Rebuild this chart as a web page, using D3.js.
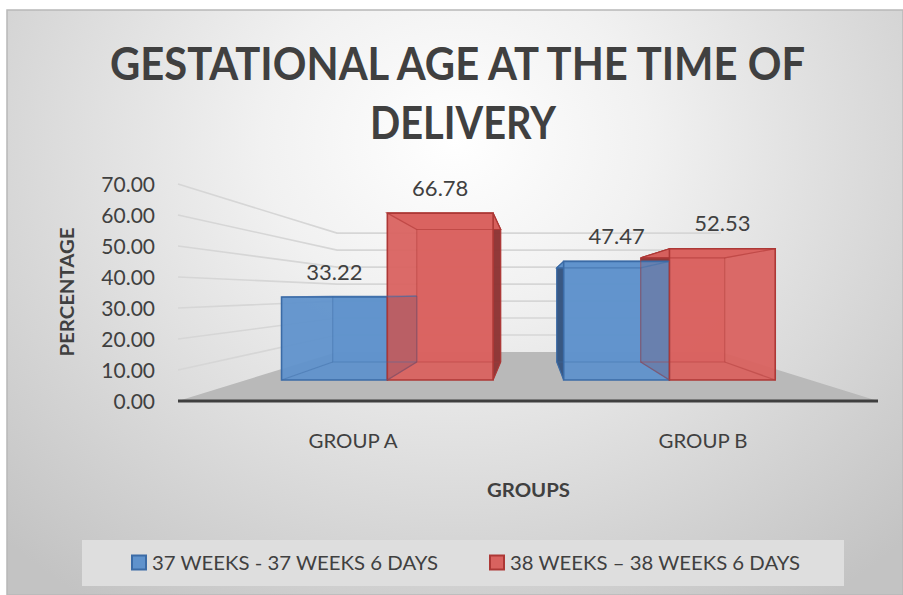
<!DOCTYPE html>
<html>
<head>
<meta charset="utf-8">
<script src="https://cdn.jsdelivr.net/npm/d3@7"></script>
<style>
html,body{margin:0;padding:0;background:#fff;}
svg{display:block;}
text{font-family:Lato,"Open Sans",sans-serif;fill:#404040;}
</style>
</head>
<body>
<script>
// ---- data ----
const categories = ["GROUP A", "GROUP B"];
const seriesNames = ["37 WEEKS - 37 WEEKS 6 DAYS", "38 WEEKS \u2013 38 WEEKS 6 DAYS"];
const series37 = [33.22, 47.47];
const series38 = [66.78, 52.53];
const yTickValues = [0, 10, 20, 30, 40, 50, 60, 70];
const titleLines = ["GESTATIONAL AGE AT THE TIME OF", "DELIVERY"];
const yTitle = "PERCENTAGE";
const xTitle = "GROUPS";

// ---- layout / style ----
const W = 903, H = 595;
const VX = 530, VY = 292.7;            // perspective vanishing point
const S_BACK = 0.548;                  // scale of back wall
const S_BAR_F = 0.806, S_BAR_B = 0.64; // bar front / back depth scales
const colors = [
  {face:"#5f92cc", edge:"#3b6ba6", side:"#34537c"},
  {face:"#d9625f", edge:"#ad3836", side:"#8a3434"}
];

const svg = d3.select("body").append("svg").attr("width", W).attr("height", H);
const defs = svg.append("defs");
const rg = defs.append("radialGradient").attr("id","bg").attr("gradientUnits","userSpaceOnUse")
  .attr("cx",455).attr("cy",140).attr("r",560)
  .attr("gradientTransform","translate(455,140) scale(1.15,1) translate(-455,-140)");
rg.append("stop").attr("offset",0).attr("stop-color","#ffffff");
rg.append("stop").attr("offset",0.3).attr("stop-color","#f1f1f1");
rg.append("stop").attr("offset",1).attr("stop-color","#c3c3c3");

svg.append("rect").attr("x",7).attr("y",10).attr("width",W-7).attr("height",H-10)
  .attr("fill","url(#bg)").attr("stroke","#b8b8b8").attr("stroke-width",1.5);

// ---- scales ----
const x0 = d3.scaleBand().domain(categories).range([178, 878]).paddingInner(0.25).paddingOuter(0.125);
const x1 = d3.scaleBand().domain(seriesNames).range([0, x0.bandwidth()]);
const y = d3.scaleLinear().domain([0, 70]).range([401, 184]);

function P(X, Y, s){ return [VX + s*(X - VX), VY + s*(Y - VY)]; }
const line = d3.line();

// ---- floor ----
const g = svg.append("g");
g.append("path").attr("d", line([P(178,y(0),1),P(878,y(0),1),P(878,y(0),S_BACK),P(178,y(0),S_BACK)]) + "Z")
  .attr("fill","#b9b9b9");

// ---- gridlines (side wall + back wall) ----
yTickValues.filter(v => v > 0).forEach(v => {
  g.append("path").attr("d", line([P(178,y(v),1), P(178,y(v),S_BACK), P(878,y(v),S_BACK)]))
    .attr("fill","none").attr("stroke","#d6d6d6").attr("stroke-width",1.6);
});

// ---- front axis line ----
g.append("line").attr("x1",178).attr("x2",878).attr("y1",y(0)).attr("y2",y(0))
  .attr("stroke","#3f3f3f").attr("stroke-width",3);

// ---- bars ----
const bars = [];
categories.forEach((c, i) => {
  [series37, series38].forEach((arr, j) => {
    const X0 = x0(c) + x1(seriesNames[j]);
    bars.push({X0, X1: X0 + x1.bandwidth(), v: arr[i], j});
  });
});
bars.forEach(b => {
  const Yt = y(b.v), Yb = y(0);
  const f = (X,Y) => P(X,Y,S_BAR_F), k = (X,Y) => P(X,Y,S_BAR_B);
  b.faces = {
    back:  [k(b.X0,Yt),k(b.X1,Yt),k(b.X1,Yb),k(b.X0,Yb)],
    bottom:[f(b.X0,Yb),f(b.X1,Yb),k(b.X1,Yb),k(b.X0,Yb)],
    left:  [f(b.X0,Yt),k(b.X0,Yt),k(b.X0,Yb),f(b.X0,Yb)],
    right: [f(b.X1,Yt),k(b.X1,Yt),k(b.X1,Yb),f(b.X1,Yb)],
    top:   [f(b.X0,Yt),f(b.X1,Yt),k(b.X1,Yt),k(b.X0,Yt)],
    front: [f(b.X0,Yt),f(b.X1,Yt),f(b.X1,Yb),f(b.X0,Yb)]
  };
  b.inner = [
    [k(b.X0,Yt),k(b.X0,Yb),k(b.X1,Yb),k(b.X1,Yt)],
    [f(b.X0,Yb),k(b.X0,Yb)], [f(b.X1,Yb),k(b.X1,Yb)],
    [f(b.X0,Yt),k(b.X0,Yt)], [f(b.X1,Yt),k(b.X1,Yt)], [k(b.X0,Yt),k(b.X1,Yt)]
  ];
  b.rightVisible = b.X1 < VX; b.leftVisible = b.X0 > VX; b.topVisible = Yt < VY;
  b.labelPos = f((b.X0+b.X1)/2, Yt);
});

const barG = svg.append("g");
// pass 1: hidden faces
bars.forEach(b => {
  const c = colors[b.j];
  const hidden = ["back","bottom"];
  if (!b.rightVisible) hidden.push("right");
  if (!b.leftVisible) hidden.push("left");
  if (!b.topVisible) hidden.push("top");
  hidden.forEach(n => barG.append("path").attr("d", line(b.faces[n])+"Z")
    .attr("fill", c.face).attr("fill-opacity", n==="back"?0.9:0.7).attr("stroke","none"));
});
// pass 2: visible side and top faces
bars.forEach(b => {
  const c = colors[b.j];
  if (b.rightVisible) barG.append("path").attr("d", line(b.faces.right)+"Z")
    .attr("fill", c.side).attr("fill-opacity",0.92).attr("stroke",c.edge).attr("stroke-width",1);
  if (b.leftVisible) barG.append("path").attr("d", line(b.faces.left)+"Z")
    .attr("fill", c.side).attr("fill-opacity",0.92).attr("stroke",c.edge).attr("stroke-width",1);
  if (b.topVisible) barG.append("path").attr("d", line(b.faces.top)+"Z")
    .attr("fill", c.face).attr("fill-opacity",0.95).attr("stroke",c.edge).attr("stroke-width",1.2);
});
// pass 3: front faces
bars.forEach(b => {
  const c = colors[b.j];
  barG.append("path").attr("d", line(b.faces.front)+"Z")
    .attr("fill", c.face).attr("fill-opacity",0.8).attr("stroke",c.edge).attr("stroke-width",1.6);
});
// pass 4: inner edges and labels
bars.forEach(b => {
  const c = colors[b.j];
  b.inner.forEach(pts => barG.append("path").attr("d", line(pts)).attr("fill","none")
    .attr("stroke", c.edge).attr("stroke-opacity",0.45).attr("stroke-width",1.2));
  barG.append("text").attr("x", b.labelPos[0]).attr("y", b.labelPos[1] - 25).attr("dy","0.35em")
    .attr("text-anchor","middle").attr("font-size",22).text(b.v.toFixed(2));
});

// ---- y axis labels ----
const yAxis = d3.axisLeft(y).tickValues(yTickValues).tickFormat(d3.format(".2f")).tickSize(0).tickPadding(0);
const yg = svg.append("g").attr("transform","translate(155,1)").call(yAxis);
yg.select(".domain").remove();
yg.selectAll("text").attr("font-size",21).attr("fill","#404040")
  .style("font-family","Lato,'Open Sans',sans-serif");

// ---- x category labels ----
const xAxis = d3.axisBottom(x0).tickSize(0).tickPadding(0);
const xg = svg.append("g").attr("transform","translate(0,434)").call(xAxis);
xg.select(".domain").remove();
xg.selectAll("text").attr("font-size",19).attr("fill","#404040")
  .style("font-family","Lato,'Open Sans',sans-serif").attr("textLength",89).attr("lengthAdjust","spacingAndGlyphs");

// ---- axis titles ----
svg.append("text").attr("x",528.5).attr("y",497).attr("text-anchor","middle")
  .attr("font-size",19).attr("font-weight","bold").attr("textLength",83).attr("lengthAdjust","spacingAndGlyphs").text(xTitle);
svg.append("text").attr("transform","translate(74,292) rotate(-90)").attr("text-anchor","middle")
  .attr("font-size",19).attr("font-weight","bold").attr("textLength",129).attr("lengthAdjust","spacingAndGlyphs").text(yTitle);

// ---- title ----
const titleLens = [695, 186];
const titleY = [80, 139];
titleLines.forEach((t, i) => {
  svg.append("text").attr("x", i===0?457.5:463).attr("y", titleY[i]).attr("text-anchor","middle")
    .attr("font-size",46).attr("font-weight","bold").attr("fill","#404040")
    .attr("textLength", titleLens[i]).attr("lengthAdjust","spacingAndGlyphs").text(t);
});

// ---- legend ----
svg.append("rect").attr("x",82).attr("y",540).attr("width",762).attr("height",46).attr("fill","#dedede");
const legX = [131, 489], legLens = [286, 290];
seriesNames.forEach((n, j) => {
  svg.append("rect").attr("x",legX[j]+1).attr("y",555.5).attr("width",14).attr("height",14)
    .attr("fill",colors[j].face).attr("stroke",colors[j].edge).attr("stroke-width",2);
  svg.append("text").attr("x",legX[j]+21).attr("y",570).attr("font-size",20)
    .attr("textLength",legLens[j]).attr("lengthAdjust","spacingAndGlyphs").text(n);
});
</script>
</body>
</html>
